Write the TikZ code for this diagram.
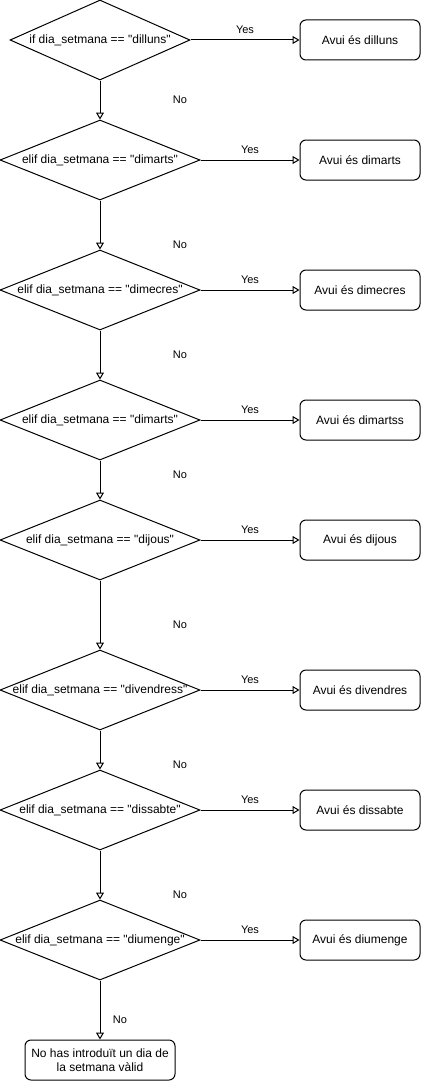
\documentclass[tikz,border=0pt]{standalone}
\usepackage{fontspec}
% no TeX input mapping, so the ASCII double quote stays straight
\setmainfont{Liberation Sans}[Ligatures=TeXOff]
\usetikzlibrary{shapes.geometric,arrows.meta}
\newcommand{\dq}{\symbol{34}}
\begin{document}
\begin{tikzpicture}[x=1pt,y=-1pt,
  dec/.style={draw,line width=1pt,shape=diamond,inner sep=0pt,minimum width=200pt,minimum height=80pt},
  dectext/.style={font=\fontsize{12}{14}\selectfont,inner sep=0pt},
  outbox/.style={draw,line width=1pt,rounded corners=6pt,minimum width=120pt,minimum height=40pt,inner sep=0pt,font=\fontsize{12}{14}\selectfont},
  lbl/.style={font=\fontsize{11}{13}\selectfont,inner sep=0pt},
  flow/.style={line width=1pt,-{Triangle[open,length=7pt,width=8pt]}}]
\useasboundingbox (0,0) rectangle (421,1081);

% decision chain
\node[dec,minimum width=180pt] (d1) at (100,40) {};
\node[dectext] (t1) at (d1) {if dia\_setmana == \dq dilluns\dq};
\node[dec] (d2) at (100,160) {};
\node[dectext] (t2) at (d2) {elif dia\_setmana == \dq dimarts\dq};
\node[dec] (d3) at (100,290) {};
\node[dectext] (t3) at (d3) {elif dia\_setmana == \dq dimecres\dq};
\node[dec] (d4) at (100,420) {};
\node[dectext] (t4) at (d4) {elif dia\_setmana == \dq dimarts\dq};
\node[dec] (d5) at (100,540) {};
\node[dectext] (t5) at (d5) {elif dia\_setmana == \dq dijous\dq};
\node[dec] (d6) at (100,690) {};
\node[dectext] (t6) at (d6) {elif dia\_setmana == \dq divendress\dq};
\node[dec] (d7) at (100,810) {};
\node[dectext] (t7) at (d7) {elif dia\_setmana == \dq dissabte\dq};
\node[dec] (d8) at (100,940) {};
\node[dectext] (t8) at (d8) {elif dia\_setmana == \dq diumenge\dq};

% outputs
\node[outbox] (b1) at (360,40) {Avui és dilluns};
\node[outbox] (b2) at (360,160) {Avui és dimarts};
\node[outbox] (b3) at (360,290) {Avui és dimecres};
\node[outbox] (b4) at (360,420) {Avui és dimartss};
\node[outbox] (b5) at (360,540) {Avui és dijous};
\node[outbox] (b6) at (360,690) {Avui és divendres};
\node[outbox] (b7) at (360,810) {Avui és dissabte};
\node[outbox] (b8) at (360,940) {Avui és diumenge};
\node[outbox,minimum width=150pt,align=center] (b9) at (100,1060) {No has introduït un dia de\\la setmana vàlid};

% Yes branches
\draw[flow] (d1.east) -- (b1.west);
\draw[flow] (d2.east) -- (b2.west);
\draw[flow] (d3.east) -- (b3.west);
\draw[flow] (d4.east) -- (b4.west);
\draw[flow] (d5.east) -- (b5.west);
\draw[flow] (d6.east) -- (b6.west);
\draw[flow] (d7.east) -- (b7.west);
\draw[flow] (d8.east) -- (b8.west);
\node[lbl] (y1) at (245,30) {Yes};
\node[lbl] (y2) at (250,150) {Yes};
\node[lbl] (y3) at (250,280) {Yes};
\node[lbl] (y4) at (250,410) {Yes};
\node[lbl] (y5) at (250,530) {Yes};
\node[lbl] (y6) at (250,680) {Yes};
\node[lbl] (y7) at (250,800) {Yes};
\node[lbl] (y8) at (250,930) {Yes};

% No branches
\draw[flow] (d1.south) -- (d2.north);
\draw[flow] (d2.south) -- (d3.north);
\draw[flow] (d3.south) -- (d4.north);
\draw[flow] (d4.south) -- (d5.north);
\draw[flow] (d5.south) -- (d6.north);
\draw[flow] (d6.south) -- (d7.north);
\draw[flow] (d7.south) -- (d8.north);
\draw[flow] (d8.south) -- (b9.north);
\node[lbl] (n1) at (180,100) {No};
\node[lbl] (n2) at (180,245) {No};
\node[lbl] (n3) at (180,355) {No};
\node[lbl] (n4) at (180,475) {No};
\node[lbl] (n5) at (180,625) {No};
\node[lbl] (n6) at (180,765) {No};
\node[lbl] (n7) at (180,895) {No};
\node[lbl] (n8) at (120,1020) {No};
\end{tikzpicture}
\end{document}
